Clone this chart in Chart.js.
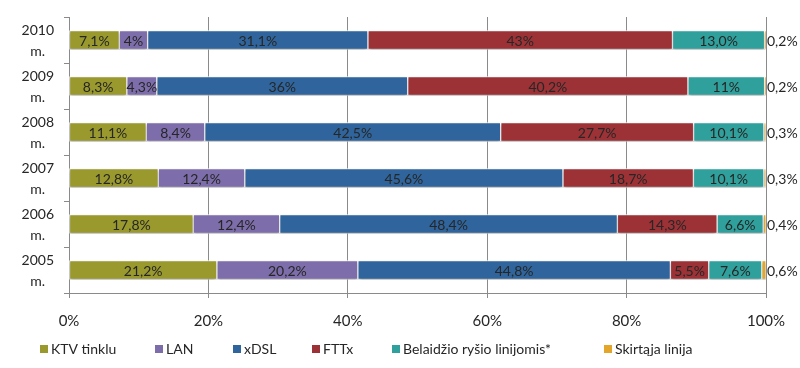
<!DOCTYPE html>
<html>
<head>
  <meta charset="utf-8">
  <title>Interneto prieigos būdai</title>
  <script src="https://cdn.jsdelivr.net/npm/chart.js"></script>
  <style>
    body { margin: 0; background: #fff; }
    #wrap { width: 800px; height: 368px; }
  </style>
</head>
<body>
  <div id="wrap"><canvas id="accessChart" width="800" height="368"></canvas></div>
  <script>
    // years, top to bottom
    const years = [['2010', 'm.'], ['2009', 'm.'], ['2008', 'm.'], ['2007', 'm.'], ['2006', 'm.'], ['2005', 'm.']];
    const seriesNames = ['KTV tinklu', 'LAN', 'xDSL', 'FTTx', 'Belaidžio ryšio linijomis*', 'Skirtąja linija'];
    const seriesColors = ['#99992e', '#7d6eab', '#2f659c', '#9c3236', '#30a09c', '#e3a52a'];

    // shares as printed on the bars (%)
    const ktv      = ['7,1', '8,3', '11,1', '12,8', '17,8', '21,2'];
    const lan      = ['4', '4,3', '8,4', '12,4', '12,4', '20,2'];
    const xdsl     = ['31,1', '36', '42,5', '45,6', '48,4', '44,8'];
    const fttx     = ['43', '40,2', '27,7', '18,7', '14,3', '5,5'];
    const wireless = ['13,0', '11', '10,1', '10,1', '6,6', '7,6'];
    const leased   = ['0,2', '0,2', '0,3', '0,3', '0,4', '0,6'];

    const xTicks = [0, 20, 40, 60, 80, 100];

    const allSeries = [ktv, lan, xdsl, fttx, wireless, leased];
    const num = s => parseFloat(s.replace(',', '.'));
    // 100% stacked: each year's bar is scaled to its own total
    const totals = years.map((y, i) => allSeries.reduce((a, s) => a + num(s[i]), 0));

    const datasets = allSeries.map((s, k) => ({
      label: seriesNames[k],
      data: s.map((v, i) => num(v) / totals[i] * 100),
      texts: s.map(v => v + '%'),
      backgroundColor: seriesColors[k],
      borderColor: '#ffffff',
      borderWidth: 1,
      borderSkipped: false,
      barThickness: 19
    }));

    const shadow = {
      id: 'shadow',
      beforeDatasetsDraw(chart) {
        const ctx = chart.ctx;
        ctx.save();
        ctx.shadowColor = 'rgba(0,0,0,0.3)';
        ctx.shadowOffsetX = 0;
        ctx.shadowOffsetY = 2;
        ctx.shadowBlur = 3;
      },
      afterDatasetsDraw(chart) {
        chart.ctx.restore();
      }
    };

    const barLabels = {
      id: 'barLabels',
      afterDatasetsDraw(chart) {
        const ctx = chart.ctx;
        ctx.save();
        ctx.font = '14px Lato, "Open Sans", sans-serif';
        ctx.fillStyle = '#262626';
        ctx.textBaseline = 'middle';
        chart.data.datasets.forEach((ds, k) => {
          chart.getDatasetMeta(k).data.forEach((bar, i) => {
            const txt = ds.texts[i];
            if (k === chart.data.datasets.length - 1) {
              ctx.textAlign = 'left';
              ctx.fillText(txt, bar.x + 1, bar.y + 1);
            } else {
              ctx.textAlign = 'center';
              ctx.fillText(txt, (bar.x + bar.base) / 2, bar.y + 1);
            }
          });
        });
        ctx.restore();
      }
    };

    // legend laid out like the original (spread along the bottom)
    const legendSlots = [40, 155, 233, 312, 392, 604];
    const bottomLegend = {
      id: 'bottomLegend',
      afterDraw(chart) {
        const ctx = chart.ctx;
        const y = 349;
        ctx.save();
        ctx.font = '14px Lato, "Open Sans", sans-serif';
        ctx.textBaseline = 'middle';
        ctx.textAlign = 'left';
        seriesNames.forEach((name, k) => {
          ctx.fillStyle = seriesColors[k];
          ctx.fillRect(legendSlots[k], y - 4, 8, 8);
          ctx.fillStyle = '#262626';
          ctx.fillText(name, legendSlots[k] + 11, y);
        });
        ctx.restore();
      }
    };

    new Chart(document.getElementById('accessChart').getContext('2d'), {
      type: 'bar',
      data: { labels: years, datasets: datasets },
      plugins: [shadow, barLabels, bottomLegend],
      options: {
        indexAxis: 'y',
        responsive: false,
        animation: false,
        layout: { padding: { top: 17, right: 34, left: 0, bottom: 0 } },
        scales: {
          x: {
            stacked: true,
            min: 0,
            max: 100,
            afterBuildTicks: scale => { scale.ticks = xTicks.map(v => ({ value: v })); },
            ticks: {
              callback: v => v + '%',
              color: '#262626',
              font: { family: 'Lato', size: 15 },
              padding: 14
            },
            grid: { color: '#8a8a8a', tickLength: 5 },
            border: { color: '#8a8a8a' },
            afterFit: scale => { scale.height = 75; }
          },
          y: {
            stacked: true,
            ticks: {
              color: '#262626',
              font: { family: 'Lato', size: 14, lineHeight: 1.55 },
              crossAlign: 'center',
              autoSkip: false,
              labelOffset: 1,
              padding: 10
            },
            grid: { offset: true, drawOnChartArea: false, color: '#8a8a8a', tickLength: 5 },
            border: { color: '#8a8a8a' },
            afterFit: scale => {
              scale.width = 69;
              scale.paddingTop = 0;
              scale.paddingBottom = 0;
            }
          }
        },
        plugins: {
          legend: { display: false },
          tooltip: { enabled: false }
        }
      }
    });
  </script>
</body>
</html>
